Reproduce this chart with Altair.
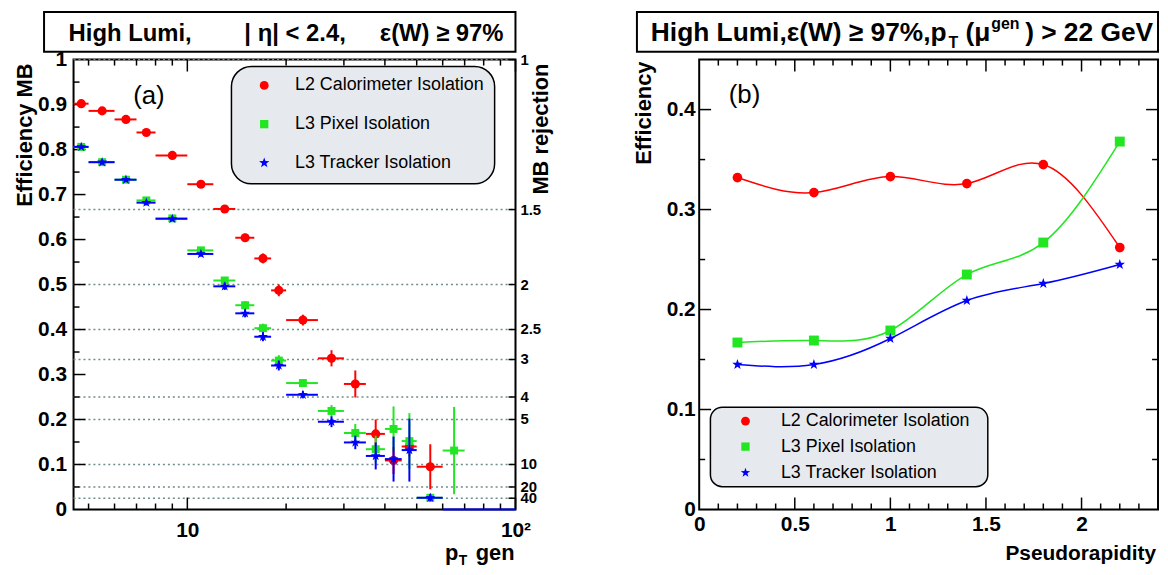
import altair as alt
import pandas as pd

FONT = "Liberation Sans"
RED, GREEN, BLUE = "#ff0000", "#22e622", "#0000ff"
STAR = ("M0,-1L0.235,-0.324L0.951,-0.309L0.38,0.124L0.588,0.809L0,0.4"
        "L-0.588,0.809L-0.38,0.124L-0.951,-0.309L-0.235,-0.324Z")

# ---------------- panel (a): efficiency vs pT gen ----------------
bin_lo = [4.5, 5, 6, 7, 8, 10, 12, 14, 16, 18, 20, 25, 30, 35, 40, 45, 50, 60]
bin_hi = [5, 6, 7, 8, 10, 12, 14, 16, 18, 20, 25, 30, 35, 40, 45, 50, 60, 70]
calo_eff = [0.902, 0.886, 0.867, 0.838, 0.787, 0.723, 0.668, 0.604, 0.558, 0.487,
            0.421, 0.336, 0.279, 0.168, 0.109, 0.140, 0.095]
calo_err = [0.004, 0.004, 0.005, 0.006, 0.005, 0.006, 0.007, 0.009, 0.011, 0.013,
            0.012, 0.018, 0.030, 0.032, 0.030, 0.022, 0.050]
pixel_eff = [0.806, 0.772, 0.733, 0.687, 0.647, 0.576, 0.509, 0.454, 0.403, 0.331,
             0.281, 0.219, 0.170, 0.134, 0.179, 0.152, 0.026, 0.131]
pixel_err = [0.004, 0.005, 0.005, 0.006, 0.005, 0.006, 0.008, 0.009, 0.010, 0.012,
             0.008, 0.013, 0.020, 0.030, 0.050, 0.062, 0.008, 0.097]
tracker_eff = [0.806, 0.772, 0.733, 0.682, 0.646, 0.568, 0.496, 0.436, 0.384, 0.320,
               0.255, 0.195, 0.149, 0.119, 0.112, 0.132, 0.026]
tracker_err = [0.004, 0.005, 0.005, 0.006, 0.005, 0.006, 0.008, 0.009, 0.010, 0.011,
               0.008, 0.012, 0.015, 0.030, 0.050, 0.070, 0.008]
tracker_empty_lo = [60, 70, 80, 90]
tracker_empty_hi = [70, 80, 90, 100]
rejection = [1, 1.5, 2, 2.5, 3, 4, 5, 10, 20, 40]
rejection_labels = ["1", "1.5", "2", "2.5", "3", "4", "5", "10", "20", "40"]
xa_major = [10, 100]
xa_minor = [5, 6, 7, 8, 9, 20, 30, 40, 50, 60, 70, 80, 90]
ya_major = [0.1, 0.2, 0.3, 0.4, 0.5, 0.6, 0.7, 0.8, 0.9]
ya_minor = [0.05, 0.15, 0.25, 0.35, 0.45, 0.55, 0.65, 0.75, 0.85, 0.95]
ya_labels = [0, 0.1, 0.2, 0.3, 0.4, 0.5, 0.6, 0.7, 0.8, 0.9, 1]

# ---------------- panel (b): efficiency vs pseudorapidity ----------------
eta = [0.2, 0.6, 1.0, 1.4, 1.8, 2.2]
calo_b = [0.332, 0.317, 0.333, 0.326, 0.345, 0.262]
pixel_b = [0.167, 0.169, 0.179, 0.235, 0.267, 0.368]
tracker_b = [0.145, 0.145, 0.171, 0.209, 0.226, 0.245]
xb_major = [0.5, 1.0, 1.5, 2.0]
xb_minor = [0.1, 0.2, 0.3, 0.4, 0.6, 0.7, 0.8, 0.9, 1.1, 1.2, 1.3, 1.4, 1.6, 1.7,
            1.8, 1.9, 2.1, 2.2, 2.3]
yb_major = [0.1, 0.2, 0.3, 0.4]
yb_minor = [0.05, 0.15, 0.25, 0.35]
xb_labels = [0, 0.5, 1, 1.5, 2]
yb_labels = [0, 0.1, 0.2, 0.3, 0.4]

series_names = ["L2 Calorimeter Isolation", "L3 Pixel Isolation", "L3 Tracker Isolation"]
series_colors = [RED, GREEN, BLUE]
series_shapes = ["circle", "square", STAR]

W_A, W_B, H = 445, 462, 453

xa = alt.Scale(type="log", domain=[4.5, 100], nice=False)
ya = alt.Scale(domain=[0, 1], nice=False)
xb = alt.Scale(domain=[0, 2.4], nice=False)
yb = alt.Scale(domain=[0, 0.45], nice=False)

axis_common = dict(ticks=False, tickSize=0, domain=False, grid=False, labelFlush=False,
                   labelOverlap=False, labelFontSize=21, labelFontWeight="bold",
                   labelFont=FONT, labelColor="black", title=None)

ax_a_x = alt.Axis(values=[10, 100], labelExpr="datum.value == 100 ? '10²' : '10'",
                  labelPadding=10, **axis_common)
ax_a_y = alt.Axis(values=ya_labels, format=".1~f", labelPadding=7, **axis_common)
ax_b_x = alt.Axis(values=xb_labels, format="~g", labelPadding=4, **axis_common)
ax_b_y = alt.Axis(values=yb_labels, format="~g", labelPadding=4, **axis_common)

one = pd.DataFrame({"k": [0]})


def box(x1, x2, y1, y2, fill="white", radius=0, sw=2.0):
    return alt.Chart(one).mark_rect(fill=fill, stroke="black", strokeWidth=sw,
                                    cornerRadius=radius).encode(
        x=alt.value(x1), x2=alt.value(x2), y=alt.value(y1), y2=alt.value(y2))


def label(txt, x, y, size, weight="normal", align="left", baseline="alphabetic", angle=0):
    kw = dict(align=align, baseline=baseline, fontSize=size, fontWeight=weight,
              font=FONT, color="black")
    if angle:
        kw["angle"] = angle
    return alt.Chart(pd.DataFrame({"t": [txt]})).mark_text(**kw).encode(
        text="t:N", x=alt.value(x), y=alt.value(y))


def xticks(vals, scale, axis, length, height):
    df = pd.DataFrame({"v": vals})
    out = []
    for y1, y2 in [(height, height - length), (0, length)]:
        out.append(alt.Chart(df).mark_rule(color="black", strokeWidth=1.5).encode(
            x=alt.X("v:Q", scale=scale, axis=axis), y=alt.value(y1), y2=alt.value(y2)))
    return out


def yticks(vals, scale, axis, length, width, both=True):
    df = pd.DataFrame({"v": vals})
    sides = [(0, length)] + ([(width, width - length)] if both else [])
    out = []
    for x1, x2 in sides:
        out.append(alt.Chart(df).mark_rule(color="black", strokeWidth=1.5).encode(
            y=alt.Y("v:Q", scale=scale, axis=axis), x=alt.value(x1), x2=alt.value(x2)))
    return out


def legend_layers(sx, tx, rows, fsize, sizes):
    out = []
    for n, c, s, z, ry in zip(series_names, series_colors, series_shapes, sizes, rows):
        d = pd.DataFrame({"t": [n]})
        out.append(alt.Chart(d).mark_point(filled=True, shape=s, size=z, color=c,
                                           opacity=1, strokeWidth=0).encode(
            x=alt.value(sx), y=alt.value(ry)))
        out.append(alt.Chart(d).mark_text(align="left", baseline="middle", fontSize=fsize,
                                          font=FONT, color="black").encode(
            text="t:N", x=alt.value(tx), y=alt.value(ry)))
    return out


def series_a(eff, err, color, shape, size):
    n = len(eff)
    df = pd.DataFrame({"lo": bin_lo[:n], "hi": bin_hi[:n], "eff": eff, "err": err})
    df["mid"] = (df["lo"] + df["hi"]) / 2
    df["ylo"] = (df["eff"] - df["err"]).clip(lower=0)
    df["yhi"] = df["eff"] + df["err"]
    base = alt.Chart(df)
    hbar = base.mark_rule(color=color, strokeWidth=2).encode(
        x=alt.X("lo:Q", scale=xa, axis=ax_a_x), x2="hi:Q",
        y=alt.Y("eff:Q", scale=ya, axis=ax_a_y))
    vbar = base.mark_rule(color=color, strokeWidth=2).encode(
        x=alt.X("mid:Q", scale=xa, axis=ax_a_x),
        y=alt.Y("ylo:Q", scale=ya, axis=ax_a_y), y2="yhi:Q")
    pts = base.mark_point(filled=True, shape=shape, size=size, color=color, opacity=1,
                          strokeWidth=0).encode(
        x=alt.X("mid:Q", scale=xa, axis=ax_a_x),
        y=alt.Y("eff:Q", scale=ya, axis=ax_a_y))
    return [hbar, vbar, pts]


rej_df = pd.DataFrame({"eff": [1 / r for r in rejection], "lab": rejection_labels})
dotted = alt.Chart(rej_df).mark_rule(color="#6f8c8c", strokeWidth=1.4, strokeDash=[2, 3]).encode(
    y=alt.Y("eff:Q", scale=ya, axis=ax_a_y), x=alt.value(0), x2=alt.value(W_A))
rej_ticks = alt.Chart(rej_df).mark_rule(color="black", strokeWidth=1.5).encode(
    y=alt.Y("eff:Q", scale=ya, axis=ax_a_y), x=alt.value(W_A - 7), x2=alt.value(W_A))
rej_text = alt.Chart(rej_df).mark_text(align="left", baseline="middle", fontSize=15,
                                       fontWeight="bold", font=FONT, color="black").encode(
    y=alt.Y("eff:Q", scale=ya, axis=ax_a_y), x=alt.value(W_A + 5), text="lab:N")

empty_df = pd.DataFrame({"lo": tracker_empty_lo, "hi": tracker_empty_hi})
empty_bins = alt.Chart(empty_df).mark_rule(color=BLUE, strokeWidth=2).encode(
    x=alt.X("lo:Q", scale=xa, axis=ax_a_x), x2="hi:Q", y=alt.value(H))

layers_a = [box(0, W_A, 0, H, fill="white", sw=2), dotted, rej_ticks, rej_text]
layers_a += xticks(xa_major, xa, ax_a_x, 12, H) + xticks(xa_minor, xa, ax_a_x, 6, H)
layers_a += (yticks(ya_major, ya, ax_a_y, 12, W_A, both=False)
             + yticks(ya_minor, ya, ax_a_y, 6, W_A, both=False))
layers_a += [box(159, 424, 7, 125, fill="#e6eaee", radius=20, sw=1.5)]
layers_a += legend_layers(192, 223, [26, 65, 104], 18, [80, 70, 120])
layers_a += series_a(calo_eff, calo_err, RED, "circle", 85)
layers_a += series_a(pixel_eff, pixel_err, GREEN, "square", 64)
layers_a += series_a(tracker_eff, tracker_err, BLUE, STAR, 110)
layers_a += [empty_bins]
layers_a += [
    label("(a)", 60, 45, 26),
    box(-29.7, W_A, -48, -8, fill="white", sw=2),
    label("High Lumi,", -5, -19, 24, "bold"),
    label("| η| < 2.4,", 172, -19, 24, "bold"),
    label("ε(W) ≥ 97%", 433, -19, 24, "bold", align="right"),
    label("Efficiency MB", -49, 4, 22, "bold", align="right", baseline="middle", angle=270),
    label("MB rejection", W_A + 26, 4, 22, "bold", align="right", baseline="middle", angle=270),
    label("p", 374, H + 51, 22, "bold"),
    label("T", 388, H + 56, 14, "bold"),
    label("gen", 405, H + 51, 22, "bold"),
]

panel_a = alt.layer(*layers_a).properties(width=W_A, height=H)


# ---------------- panel (b) ----------------
def series_b(vals, color, shape, size):
    df = pd.DataFrame({"eta": eta, "eff": vals})
    base = alt.Chart(df)
    line = base.mark_line(color=color, strokeWidth=1.5, interpolate="natural").encode(
        x=alt.X("eta:Q", scale=xb, axis=ax_b_x), y=alt.Y("eff:Q", scale=yb, axis=ax_b_y))
    pts = base.mark_point(filled=True, shape=shape, size=size, color=color, opacity=1,
                          strokeWidth=0).encode(
        x=alt.X("eta:Q", scale=xb, axis=ax_b_x), y=alt.Y("eff:Q", scale=yb, axis=ax_b_y))
    return [line, pts]


# title (b): main text with a subscript and a superscript, laid out left to right
F, S = 26.5, 16
x0 = -48.7
x_T = x0 + 11.27 * F + 1          # after "High Lumi,ε(W) ≥ 97%,p"
x_par = x_T + 0.611 * S + 0.278 * F  # after "T" and a space
x_gen = x_par + 0.944 * F + 1      # after "(μ"

layers_b = [box(0, W_B, 0, H, fill="white", sw=2)]
layers_b += xticks(xb_major, xb, ax_b_x, 12, H) + xticks(xb_minor, xb, ax_b_x, 6, H)
layers_b += yticks(yb_major, yb, ax_b_y, 12, W_B) + yticks(yb_minor, yb, ax_b_y, 6, W_B)
layers_b += series_b(calo_b, RED, "circle", 95)
layers_b += series_b(pixel_b, GREEN, "square", 100)
layers_b += series_b(tracker_b, BLUE, STAR, 120)
layers_b += [box(11.3, 290.6, 350, 430, fill="#e6eaee", radius=12, sw=1.5)]
layers_b += legend_layers(46.6, 82.3, [364, 389.7, 416], 18, [80, 70, 100])
layers_b += [
    label("(b)", 29.7, 44, 26),
    box(-62.7, W_B, -48, -8, fill="white", sw=2),
    label("High Lumi,ε(W) ≥ 97%,p", x0, -19, F, "bold"),
    label("T", x_T, -12, S, "bold"),
    label("(μ", x_par, -19, F, "bold"),
    label("gen", x_gen, -31, S, "bold"),
    label(") > 22 GeV", 457, -19, F, "bold", align="right"),
    label("Efficiency", -56, 2, 22, "bold", align="right", baseline="middle", angle=270),
    label("Pseudorapidity", W_B - 2, H + 51, 21, "bold", align="right"),
]

panel_b = alt.layer(*layers_b).properties(width=W_B, height=H)

chart = alt.hconcat(panel_a, panel_b, spacing=185, bounds="flush",
                    padding={"left": 5, "top": 0, "right": 0, "bottom": 0}).configure_view(
    strokeOpacity=0).configure(background="white")

chart.save("out.html", embed_options={"renderer": "svg", "actions": False})
